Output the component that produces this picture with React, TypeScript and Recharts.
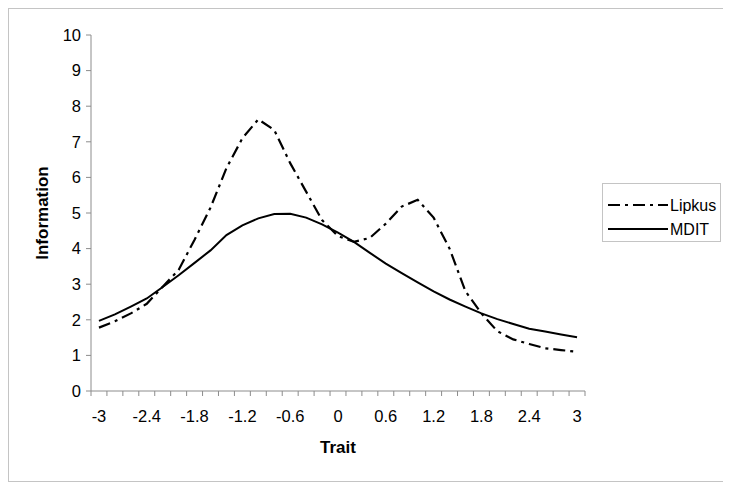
import React from 'react';
import { LineChart, Line, XAxis, YAxis } from 'recharts';

const traits = [-3, -2.8, -2.6, -2.4, -2.2, -2, -1.8, -1.6, -1.4, -1.2, -1, -0.8, -0.6, -0.4, -0.2, 0, 0.2, 0.4, 0.6, 0.8, 1, 1.2, 1.4, 1.6, 1.8, 2, 2.2, 2.4, 2.6, 2.8, 3];
const lipkus = [1.78, 1.96, 2.18, 2.45, 2.93, 3.4, 4.25, 5.15, 6.26, 7.1, 7.63, 7.33, 6.4, 5.6, 4.8, 4.35, 4.19, 4.3, 4.7, 5.18, 5.37, 4.87, 4.0, 2.8, 2.18, 1.68, 1.45, 1.32, 1.2, 1.15, 1.1];
const mdit = [1.97, 2.15, 2.37, 2.6, 2.92, 3.25, 3.6, 3.95, 4.38, 4.65, 4.85, 4.97, 4.98, 4.87, 4.68, 4.45, 4.19, 3.88, 3.58, 3.31, 3.05, 2.8, 2.57, 2.37, 2.18, 2.02, 1.88, 1.75, 1.67, 1.59, 1.51];
const xLabels = [-3, -2.4, -1.8, -1.2, -0.6, 0, 0.6, 1.2, 1.8, 2.4, 3];
const yTicks = [0, 1, 2, 3, 4, 5, 6, 7, 8, 9, 10];
// category boundaries (Excel-style tick marks between categories)
const xBoundaries = [-3.1, ...traits.map((t) => Math.round((t + 0.1) * 10) / 10)];

const data = traits.map((t, i) => ({ x: t, lipkus: lipkus[i], mdit: mdit[i] }));

const FONT = '"Liberation Sans", Arial, sans-serif';
const AXIS = '#8c8c8c';
const DASH = '12 5 3 5';

const XTick = (props: any) => {
  const { x, y, payload } = props;
  const v = payload.value;
  const isLabel = xLabels.some((l) => Math.abs(l - v) < 1e-6);
  if (isLabel) {
    return (
      <text x={x} y={y + 20} textAnchor="middle" dominantBaseline="central" fontSize={16.5} fontFamily={FONT} fill="#000">
        {String(v)}
      </text>
    );
  }
  return <line x1={x} x2={x} y1={y - 5} y2={y} stroke={AXIS} strokeWidth={1} />;
};

export default function App() {
  return (
    <div
      style={{
        position: 'relative',
        width: 720,
        height: 474,
        border: '1px solid #c4c4c4',
        boxSizing: 'border-box',
        background: '#fff',
        fontFamily: FONT,
      }}
    >
      <LineChart width={718} height={472} data={data} margin={{ top: 26, right: 142, bottom: 20, left: 0 }}>
        <XAxis
          dataKey="x"
          type="number"
          domain={[-3.1, 3.1]}
          ticks={[...xBoundaries, ...xLabels]}
          interval={0}
          tick={<XTick />}
          tickLine={false}
          tickSize={5}
          tickMargin={0}
          height={70}
          stroke={AXIS}
          label={(p: any) => {
            const vb = p.viewBox;
            return (
              <text x={vb.x + vb.width / 2} y={vb.y + 56} textAnchor="middle" dominantBaseline="central" fontSize={17} fontWeight="bold" fontFamily={FONT} fill="#000">
                Trait
              </text>
            );
          }}
        />
        <YAxis
          type="number"
          domain={[0, 10]}
          ticks={yTicks}
          interval={0}
          width={82}
          tickSize={5}
          tickMargin={5}
          stroke={AXIS}
          tick={{ fontSize: 16.5, fontFamily: FONT, fill: '#000' }}
          label={(p: any) => {
            const vb = p.viewBox;
            const cx = 33;
            const cy = vb.y + vb.height / 2;
            return (
              <text x={cx} y={cy} textAnchor="middle" dominantBaseline="central" fontSize={17} fontWeight="bold" fontFamily={FONT} fill="#000" transform={`rotate(-90 ${cx} ${cy})`}>
                Information
              </text>
            );
          }}
        />
        <Line type="linear" dataKey="lipkus" stroke="#000" strokeWidth={2.2} strokeDasharray={DASH} dot={false} isAnimationActive={false} />
        <Line type="linear" dataKey="mdit" stroke="#000" strokeWidth={2} dot={false} isAnimationActive={false} />
      </LineChart>
      <div
        style={{
          position: 'absolute',
          left: 593,
          top: 174,
          width: 119,
          height: 59,
          border: '1px solid #c4c4c4',
          boxSizing: 'border-box',
          background: '#fff',
        }}
      >
        <svg width={117} height={57} style={{ position: 'absolute', left: 0, top: 0 }}>
          <line x1={5} x2={65} y1={21} y2={21} stroke="#000" strokeWidth={2.2} strokeDasharray={DASH} />
          <line x1={5} x2={65} y1={45} y2={45} stroke="#000" strokeWidth={2} />
          <text x={67} y={21} dominantBaseline="central" fontSize={16} fontFamily={FONT} fill="#000">Lipkus</text>
          <text x={67} y={45} dominantBaseline="central" fontSize={16} fontFamily={FONT} fill="#000">MDIT</text>
        </svg>
      </div>
    </div>
  );
}
